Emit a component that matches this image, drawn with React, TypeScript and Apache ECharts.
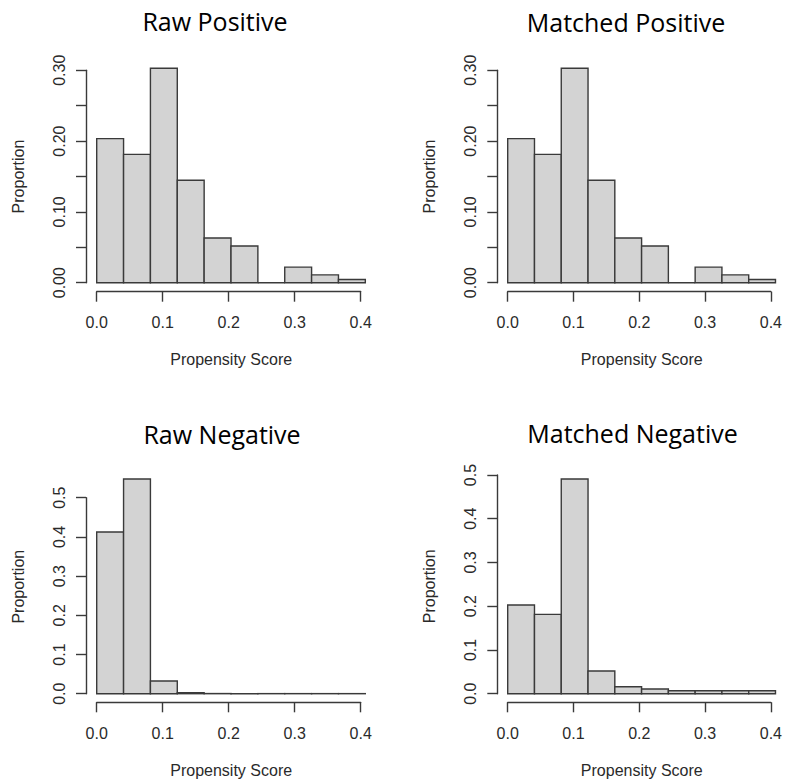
import React, { useEffect, useRef } from 'react';
import * as echarts from 'echarts';

// Histogram bin edges (propensity score)
const BIN_EDGES = [0, 0.0407, 0.0814, 0.1221, 0.1628, 0.2035, 0.2442, 0.2849, 0.3256, 0.3663, 0.407];

// Proportions per bin
const RAW_POSITIVE = [0.2035, 0.1813, 0.3029, 0.1446, 0.0631, 0.0518, 0, 0.0220, 0.0111, 0.0045];
const MATCHED_POSITIVE = [0.2035, 0.1813, 0.3029, 0.1446, 0.0631, 0.0518, 0, 0.0220, 0.0111, 0.0045];
const RAW_NEGATIVE = [0.4124, 0.5476, 0.0323, 0.0025, 0.0004, 0.0003, 0.0002, 0.0002, 0.0002, 0.0002];
const MATCHED_NEGATIVE = [0.2027, 0.1814, 0.4909, 0.0518, 0.016, 0.0107, 0.0068, 0.0068, 0.0068, 0.0068];

const PANEL_TITLES = ['Raw Positive', 'Matched Positive', 'Raw Negative', 'Matched Negative'];
const X_AXIS_TITLE = 'Propensity Score';
const Y_AXIS_TITLE = 'Proportion';

const X_MIN = 0;
const X_MAX = 0.4;
const X_STEP = 0.1;

const AXIS_FONT = "'Liberation Sans', Arial, Helvetica, sans-serif";
const TITLE_FONT = "'Open Sans', 'Noto Sans', sans-serif";
const AXIS_COLOR = '#3a3a3a';
const TEXT_COLOR = '#2a2a2a';

type Panel = {
  title: string;
  values: number[];
  grid: { left: number; top: number; width: number; height: number };
  yMax: number;
  yStep: number;
  yLabelEvery: number;
  yDecimals: number;
  xOffset: number;
  yOffset: number;
  yNamePad: number[];
  titleX: number;
  titleY: number;
};

const PANELS: Panel[] = [
  {
    title: PANEL_TITLES[0], values: RAW_POSITIVE,
    grid: { left: 96.7, top: 70.3, width: 264, height: 212.4 },
    yMax: 0.3, yStep: 0.05, yLabelEvery: 2, yDecimals: 2,
    xOffset: 9, yOffset: 10.7, yNamePad: [0, 0, 0, 0], titleX: 215, titleY: 8,
  },
  {
    title: PANEL_TITLES[1], values: MATCHED_POSITIVE,
    grid: { left: 507.7, top: 70.3, width: 264.3, height: 212.4 },
    yMax: 0.3, yStep: 0.05, yLabelEvery: 2, yDecimals: 2,
    xOffset: 9, yOffset: 10.4, yNamePad: [0, 0, 0, 0], titleX: 626, titleY: 9,
  },
  {
    title: PANEL_TITLES[2], values: RAW_NEGATIVE,
    grid: { left: 96.7, top: 497.7, width: 264, height: 196 },
    yMax: 0.5, yStep: 0.1, yLabelEvery: 1, yDecimals: 1,
    xOffset: 8.6, yOffset: 10.7, yNamePad: [0, 0, 0, 18], titleX: 222, titleY: 421,
  },
  {
    title: PANEL_TITLES[3], values: MATCHED_NEGATIVE,
    grid: { left: 507.7, top: 475, width: 264.3, height: 218.7 },
    yMax: 0.5, yStep: 0.1, yLabelEvery: 1, yDecimals: 1,
    xOffset: 8.6, yOffset: 10.4, yNamePad: [0, 4, 0, 0], titleX: 632.5, titleY: 420,
  },
];

const renderBar = (params: any, api: any) => {
  const x0 = api.value(0);
  const x1 = api.value(1);
  const v = api.value(2);
  const p0 = api.coord([x0, v]);
  const p1 = api.coord([x1, 0]);
  return {
    type: 'rect',
    shape: { x: p0[0], y: p0[1], width: p1[0] - p0[0], height: p1[1] - p0[1] },
    style: { fill: '#d3d3d3', stroke: AXIS_COLOR, lineWidth: 1.4 },
  };
};

export default function App() {
  const ref = useRef<HTMLDivElement>(null);

  useEffect(() => {
    if (!ref.current) return;
    const chart = echarts.init(ref.current, undefined, { renderer: 'svg' });

    const axisLabelStyle = { fontFamily: AXIS_FONT, fontSize: 16, color: TEXT_COLOR };

    const option: any = {
      animation: false,
      backgroundColor: '#ffffff',
      title: PANELS.map((p) => ({
        text: p.title,
        left: p.titleX,
        top: p.titleY,
        padding: 0,
        textAlign: 'center',
        textStyle: { fontFamily: TITLE_FONT, fontSize: 25, fontWeight: 'normal', color: '#000' },
      })),
      grid: PANELS.map((p) => ({ ...p.grid, containLabel: false })),
      xAxis: PANELS.map((p, i) => ({
        type: 'value',
        gridIndex: i,
        min: X_MIN,
        max: X_MAX,
        interval: X_STEP,
        offset: p.xOffset,
        splitLine: { show: false },
        axisLine: { show: true, onZero: false, lineStyle: { color: AXIS_COLOR, width: 1.4 } },
        axisTick: { show: true, length: 10, lineStyle: { color: AXIS_COLOR, width: 1.4 } },
        axisLabel: {
          ...axisLabelStyle,
          margin: 23,
          formatter: (v: number) => v.toFixed(1),
        },
        name: X_AXIS_TITLE,
        nameLocation: 'middle',
        nameGap: 60,
        nameTextStyle: { ...axisLabelStyle, padding: [0, 0, 0, 5] },
      })),
      yAxis: PANELS.map((p, i) => ({
        type: 'value',
        gridIndex: i,
        min: 0,
        max: p.yMax,
        interval: p.yStep,
        offset: p.yOffset,
        splitLine: { show: false },
        axisLine: { show: true, onZero: false, lineStyle: { color: AXIS_COLOR, width: 1.4 } },
        axisTick: { show: true, length: 10, lineStyle: { color: AXIS_COLOR, width: 1.4 } },
        axisLabel: {
          ...axisLabelStyle,
          rotate: 90,
          margin: 19,
          showMinLabel: true,
          showMaxLabel: true,
          hideOverlap: false,
          formatter: (v: number) => {
            const k = Math.round(v / p.yStep);
            return k % p.yLabelEvery === 0 ? v.toFixed(p.yDecimals) : '';
          },
        },
        name: Y_AXIS_TITLE,
        nameLocation: 'middle',
        nameGap: 60,
        nameTextStyle: { ...axisLabelStyle, padding: p.yNamePad },
      })),
      series: PANELS.map((p, i) => ({
        type: 'custom',
        name: p.title,
        xAxisIndex: i,
        yAxisIndex: i,
        clip: false,
        renderItem: renderBar,
        encode: { x: [0, 1], y: 2 },
        data: p.values.map((v, j) => [BIN_EDGES[j], BIN_EDGES[j + 1], v]),
      })),
    };

    chart.setOption(option);
    return () => {
      chart.dispose();
    };
  }, []);

  return (
    <div
      ref={ref}
      style={{ position: 'absolute', left: 0, top: 0, width: 785, height: 783, background: '#fff' }}
    />
  );
}
